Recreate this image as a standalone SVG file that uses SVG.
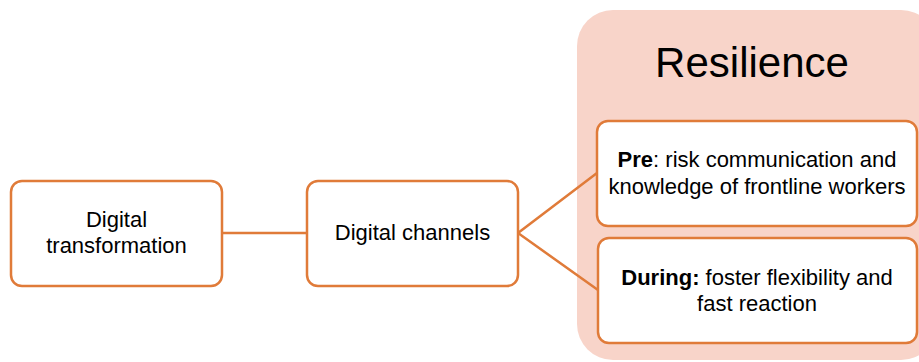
<svg xmlns="http://www.w3.org/2000/svg" width="919" height="362" viewBox="0 0 919 362">
  <style>
    .box { fill: #FFFFFF; stroke: #E07B39; stroke-width: 2.5; }
    .conn { fill: none; stroke: #E07B39; stroke-width: 2.5; }
    .t { font-family: "Liberation Sans", Arial, sans-serif; font-size: 22px; fill: #000000; text-anchor: middle; }
    .title { font-family: "Liberation Sans", Arial, sans-serif; font-size: 42px; fill: #000000; text-anchor: middle; }
    .b { font-weight: bold; }
  </style>
  <rect width="919" height="362" fill="#FFFFFF"/>
  <g id="resilience">
    <rect x="577" y="10" width="360" height="350" rx="36" ry="36" fill="#F8D4C9"/>
    <text class="title" x="752" y="77">Resilience</text>
  </g>
  <g id="connectors">
    <line class="conn" x1="222" y1="233" x2="307" y2="233"/>
    <polyline class="conn" points="597,173 518,233 598,290"/>
  </g>
  <g id="digital-transformation">
    <rect class="box" x="11" y="181" width="211" height="105" rx="11" ry="11"/>
    <text class="t" x="116.5" y="227">Digital</text>
    <text class="t" x="116.5" y="253">transformation</text>
  </g>
  <g id="digital-channels">
    <rect class="box" x="307" y="181" width="211" height="105" rx="11" ry="11"/>
    <text class="t" x="412.5" y="240">Digital channels</text>
  </g>
  <g id="pre">
    <rect class="box" x="597" y="121" width="320" height="105" rx="11" ry="11"/>
    <text class="t" x="757" y="167"><tspan class="b">Pre</tspan>: risk communication and</text>
    <text class="t" x="757" y="194">knowledge of frontline workers</text>
  </g>
  <g id="during">
    <rect class="box" x="598" y="238" width="319" height="105" rx="11" ry="11"/>
    <text class="t" x="757" y="285"><tspan class="b">During:</tspan> foster flexibility and</text>
    <text class="t" x="757" y="311">fast reaction</text>
  </g>
</svg>
